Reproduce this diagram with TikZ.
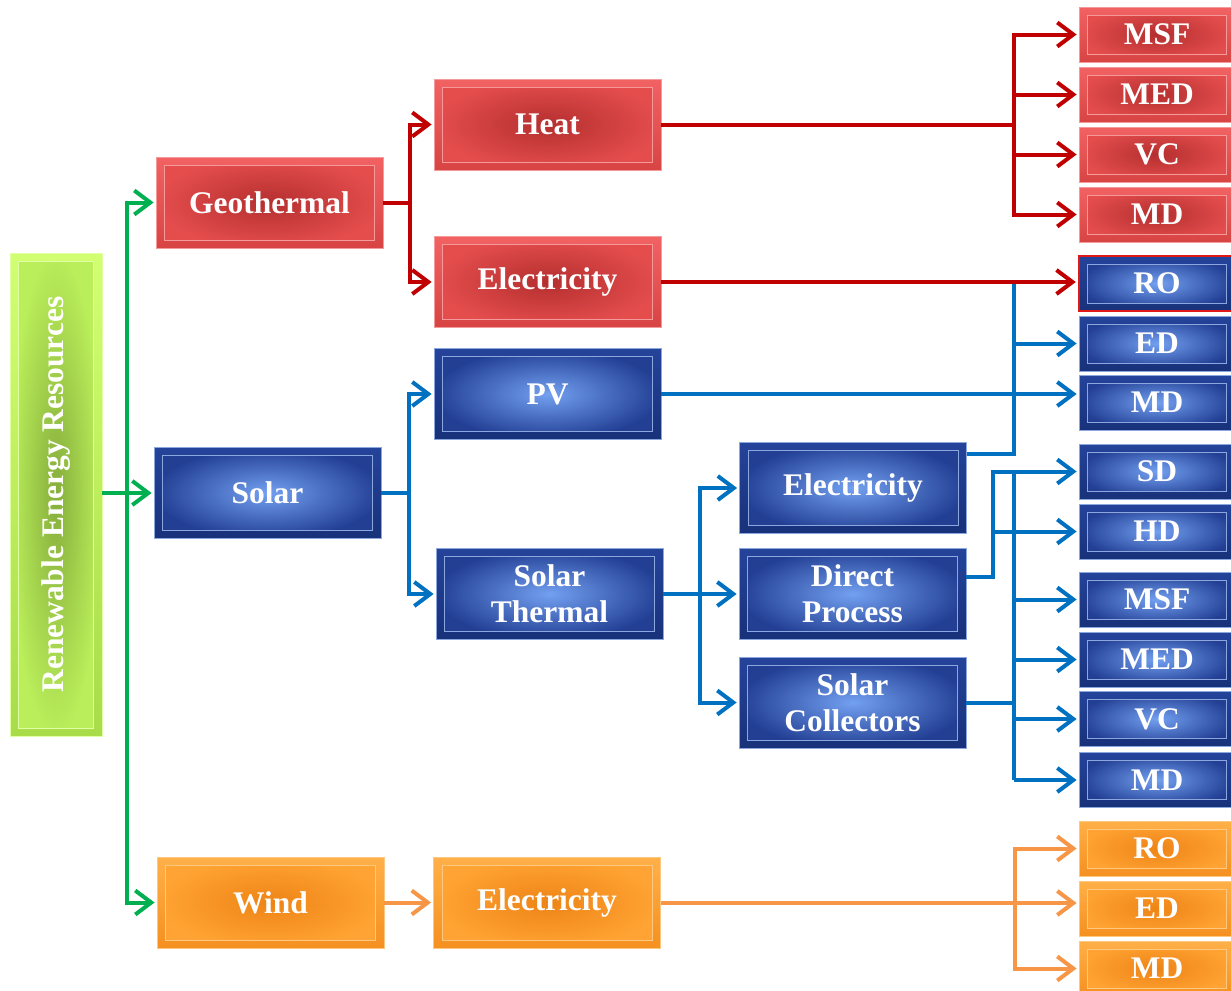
\documentclass[tikz,border=0pt]{standalone}
\usepackage{fontspec}
\setmainfont{Liberation Serif}
\usepackage{graphicx}
\usetikzlibrary{arrows.meta,calc}

\newcommand\boxfont{\fontsize{23.6}{27}\selectfont\bfseries}

% line colours
\definecolor{lnred}{HTML}{C00000}
\definecolor{lnblue}{HTML}{0070C0}
\definecolor{lngreen}{HTML}{00B050}
\definecolor{lnorange}{HTML}{F79646}

% box colours: frame top, frame bottom, inner edge, inner centre, rim
\definecolor{rdT}{HTML}{F26262}\definecolor{rdB}{HTML}{D84444}
\definecolor{rdE}{HTML}{E54D4D}\definecolor{rdC}{HTML}{B52F2F}\definecolor{rdR}{HTML}{F49A9A}
\definecolor{blT}{HTML}{24439A}\definecolor{blB}{HTML}{18317A}
\definecolor{blE}{HTML}{223F94}\definecolor{blC}{HTML}{73A0F0}\definecolor{blR}{HTML}{8CA6DE}
\definecolor{grT}{HTML}{D2FF72}\definecolor{grB}{HTML}{A8DC48}
\definecolor{grE}{HTML}{BAEE5A}\definecolor{grC}{HTML}{86AE3C}\definecolor{grR}{HTML}{DFFFA0}
\definecolor{orT}{HTML}{FFB048}\definecolor{orB}{HTML}{F59020}
\definecolor{orE}{HTML}{FFA434}\definecolor{orC}{HTML}{EE8416}\definecolor{orR}{HTML}{FFC880}
\definecolor{roRim}{HTML}{E01818}

\tikzset{
  bevel/.style n args={5}{
    rectangle, inner sep=0pt, text=white, font=\boxfont, align=center,
    top color=#1, bottom color=#2, draw=#5, line width=0.6pt,
    path picture={
      \shade[outer color=#3, inner color=#4]
        ([shift={(6.5pt,6pt)}]path picture bounding box.south west)
        rectangle ([shift={(-6.5pt,-6pt)}]path picture bounding box.north east);
      \draw[#5, line width=0.5pt]
        ([shift={(6.5pt,6pt)}]path picture bounding box.south west)
        rectangle ([shift={(-6.5pt,-6pt)}]path picture bounding box.north east);
    }},
  redbox/.style={bevel={rdT}{rdB}{rdE}{rdC}{rdR}},
  bluebox/.style={bevel={blT}{blB}{blE}{blC}{blR}},
  greenbox/.style={bevel={grT}{grB}{grE}{grC}{grR}},
  orangebox/.style={bevel={orT}{orB}{orE}{orC}{orR}},
  wh/.style 2 args={minimum width=#1*0.75pt, minimum height=#2*0.75pt},
  mainbox/.style={wh={227}{91}},
  endbox/.style={wh={156}{55}},
  con/.style={draw=#1, line width=3pt, line cap=butt, line join=miter},
  tip/.style={-{Straight Barb[length=12pt,width=18pt]}, shorten >=1.5pt},
}

\begin{document}
\begin{tikzpicture}[x=0.75pt,y=-0.75pt]
\clip (0,0) rectangle (1231,990);

% ---- source ----
\node[greenbox, wh={92}{483}] (ref) at (56,494.5)
  {\rotatebox{90}{Renewable Energy Resources}};

% ---- resources ----
\node[redbox, mainbox] (geo) at (269.5,202.5) {Geothermal};
\node[bluebox, mainbox] (solar) at (267.5,493) {Solar};
\node[orangebox, mainbox] (wind) at (270.5,902.5) {Wind};

% ---- conversion ----
\node[redbox, mainbox] (heat) at (547.5,124.5) {Heat};
\node[redbox, mainbox] (elg) at (547.5,282) {Electricity};
\node[bluebox, mainbox] (pv) at (547.5,394) {PV};
\node[bluebox, mainbox] (st) at (549.5,594) {Solar\\Thermal};
\node[orangebox, mainbox] (elw) at (547,903) {Electricity};
\node[bluebox, mainbox] (els) at (853,488) {Electricity};
\node[bluebox, mainbox] (dp) at (852.5,594) {Direct\\Process};
\node[bluebox, mainbox] (sc) at (852.5,702.5) {Solar\\Collectors};

% ---- desalination processes ----
\node[redbox, endbox] (msfA) at (1157,34.5) {MSF};
\node[redbox, endbox] (medA) at (1157,94.5) {MED};
\node[redbox, endbox] (vcA) at (1157,154.5) {VC};
\node[redbox, endbox] (mdA) at (1157,214.5) {MD};
\node[bluebox, endbox, draw=roRim, line width=1.8pt] (roB) at (1157,283.5) {RO};
\node[bluebox, endbox] (edB) at (1157,343.5) {ED};
\node[bluebox, endbox] (mdB) at (1157,402.5) {MD};
\node[bluebox, endbox] (sdC) at (1157,471.5) {SD};
\node[bluebox, endbox] (hdC) at (1157,531.5) {HD};
\node[bluebox, endbox] (msfC) at (1157,599.5) {MSF};
\node[bluebox, endbox] (medC) at (1157,659.5) {MED};
\node[bluebox, endbox] (vcC) at (1157,719) {VC};
\node[bluebox, endbox] (mdC) at (1157,780) {MD};
\node[orangebox, endbox] (roD) at (1157,848.5) {RO};
\node[orangebox, endbox] (edD) at (1157,908.5) {ED};
\node[orangebox, endbox] (mdD) at (1157,968.5) {MD};

% ---- bus lines ----
\coordinate (gb) at (127,0);
\coordinate (rb1) at (410,0);
\coordinate (rb2) at (1014,0);
\coordinate (bb1) at (409,0);
\coordinate (bb2) at (700,0);
\coordinate (bb3) at (1014,0);
\coordinate (bb4) at (993,0);
\coordinate (ob) at (1015,0);
\coordinate (elsout) at ($(els.north east)+(0,12)$);
\coordinate (dpout) at ($(dp.north east)+(0,29)$);

% green: resources
\draw[con=lngreen, tip] (ref.east |- solar.west) -- (solar.west);
\draw[con=lngreen, tip] (gb |- solar.west) |- (geo.west);
\draw[con=lngreen, tip] (gb |- solar.west) |- (wind.west);

% blue: solar branch
\draw[con=lnblue, tip] (solar.east) -- (bb1 |- solar.east) |- (pv.west);
\draw[con=lnblue, tip] (bb1 |- solar.east) |- (st.west);
\draw[con=lnblue, tip] (pv.east) -- (pv.east -| mdB.west);
\draw[con=lnblue, tip] (st.east) -- (bb2 |- st.east) |- (els.west);
\draw[con=lnblue, tip] (bb2 |- st.east) -- (dp.west);
\draw[con=lnblue, tip] (bb2 |- st.east) |- (sc.west);
\draw[con=lnblue] (elsout) -- (bb3 |- elsout) -- (bb3 |- roB.west);
\draw[con=lnblue, tip] (bb3 |- elsout) |- (edB.west);
\draw[con=lnblue, tip] (dpout) -- (bb4 |- dpout) |- (sdC.west);
\draw[con=lnblue, tip] (bb4 |- hdC.west) -- (hdC.west);
\draw[con=lnblue] (sc.east) -- (bb3 |- sc.east);
\draw[con=lnblue] (bb3 |- sdC.west) -- (bb3 |- mdC.west);
\draw[con=lnblue, tip] (bb3 |- msfC.west) -- (msfC.west);
\draw[con=lnblue, tip] (bb3 |- medC.west) -- (medC.west);
\draw[con=lnblue, tip] (bb3 |- vcC.west) -- (vcC.west);
\draw[con=lnblue, tip] (bb3 |- mdC.west) -- (mdC.west);

% red: geothermal branch
\draw[con=lnred, tip] (geo.east) -- (rb1 |- geo.east) |- (heat.west);
\draw[con=lnred, tip] (rb1 |- geo.east) |- (elg.west);
\draw[con=lnred, tip] (heat.east) -- (rb2 |- heat.east) |- (msfA.west);
\draw[con=lnred, tip] (rb2 |- heat.east) |- (medA.west);
\draw[con=lnred, tip] (rb2 |- heat.east) |- (vcA.west);
\draw[con=lnred, tip] (rb2 |- heat.east) |- (mdA.west);
\draw[con=lnred, tip] (elg.east) -- (elg.east -| roB.west);

% orange: wind branch
\draw[con=lnorange, tip] (wind.east) -- (wind.east -| elw.west);
\draw[con=lnorange, tip] (elw.east) -- (elw.east -| edD.west);
\draw[con=lnorange, tip] (ob |- elw.east) |- (roD.west);
\draw[con=lnorange, tip] (ob |- elw.east) |- (mdD.west);
\end{tikzpicture}
\end{document}
